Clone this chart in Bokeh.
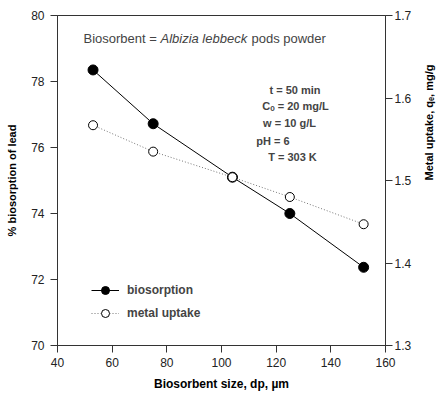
import math
from bokeh.plotting import figure
from bokeh.models import (Range1d, LinearAxis, Label, Legend, LegendItem,
                          FixedTicker)
from bokeh.embed import file_html
from bokeh.resources import INLINE

# ---- data ----
size_um = [53, 75, 104, 125, 152]
biosorption_pct = [78.35, 76.72, 75.10, 74.0, 72.37]
metal_uptake = [1.567, 1.535, 1.504, 1.480, 1.447]

x_ticks = [40, 60, 80, 100, 120, 140, 160]
y_ticks = [70, 72, 74, 76, 78, 80]
y2_ticks = [1.3, 1.4, 1.5, 1.6, 1.7]

FONT = "Liberation Sans"

p = figure(frame_width=328, frame_height=330, output_backend="svg",
           toolbar_location=None, x_range=Range1d(40, 160),
           y_range=Range1d(70, 80),
           min_border_left=57, min_border_right=54,
           min_border_top=15, min_border_bottom=40)
p.extra_y_ranges = {"right": Range1d(1.3, 1.7)}
p.xgrid.visible = False
p.ygrid.visible = False
p.outline_line_color = "#333333"
p.outline_line_width = 1
p.background_fill_color = "white"
p.border_fill_color = "white"

def style_axis(ax, ticks):
    ax.ticker = FixedTicker(ticks=ticks)
    ax.major_tick_in = 0
    ax.major_tick_out = 7
    ax.minor_tick_line_color = None
    ax.axis_line_color = "#333333"
    ax.major_tick_line_color = "#333333"
    ax.major_label_text_font = FONT
    ax.major_label_text_font_size = "12px"
    ax.major_label_text_color = "#222222"
    ax.axis_label_text_font = FONT
    ax.axis_label_text_font_size = "12px"
    ax.axis_label_text_font_style = "bold"
    ax.axis_label_text_color = "black"

def title_axis(ax, text):
    # axis that only carries a title
    ax.ticker = FixedTicker(ticks=[])
    ax.axis_line_color = None
    ax.major_tick_line_color = None
    ax.minor_tick_line_color = None
    ax.major_tick_in = 0
    ax.major_tick_out = 0
    ax.major_label_standoff = 0
    ax.axis_label = text
    ax.axis_label_text_font = FONT
    ax.axis_label_text_font_size = "11px"
    ax.axis_label_text_font_style = "bold"
    ax.axis_label_text_color = "black"

style_axis(p.xaxis[0], x_ticks)
p.xaxis[0].axis_label = "Biosorbent size, dp, µm"
p.xaxis[0].major_label_standoff = 5
p.xaxis[0].axis_label_standoff = 7

style_axis(p.yaxis[0], y_ticks)
p.yaxis[0].major_label_standoff = 6

ax2 = LinearAxis(y_range_name="right")
style_axis(ax2, y2_ticks)
ax2.major_label_standoff = 2
p.add_layout(ax2, "right")

# left title
axl = LinearAxis(bounds=(70.55, 80))
title_axis(axl, "% biosorption of lead")
axl.axis_label_standoff = 11
p.add_layout(axl, "left")

# right title, reading bottom to top
axr = LinearAxis(y_range_name="right", bounds=(1.3, 1.5836))
title_axis(axr, "Metal uptake, qₑ, mg/g")
axr.axis_label_standoff = 14
if "axis_label_orientation" in LinearAxis.properties():
    axr.axis_label_orientation = math.pi / 2
p.add_layout(axr, "right")

xs = 328 / 120

def px_to_x(px):
    return 40 + (px - 57) / xs

def py_to_y(py):
    return 80 - (py - 15) / 33.0

l1 = p.line(size_um, biosorption_pct, line_color="black", line_width=1)
m1 = p.scatter(size_um, biosorption_pct, size=10, fill_color="black",
               line_color="black")
l2 = p.line(size_um, metal_uptake, y_range_name="right", line_color="#777777",
            line_width=1, line_dash="1 2")
m2 = p.scatter(size_um, metal_uptake, y_range_name="right", size=9,
               fill_color="white", line_color="black", line_width=1)

legend = Legend(items=[LegendItem(label="biosorption", renderers=[l1, m1]),
                       LegendItem(label="metal uptake", renderers=[l2, m2])],
                location=(34, 22), border_line_color=None,
                background_fill_alpha=0, padding=0, margin=0, spacing=3,
                glyph_width=28, glyph_height=20, label_standoff=8,
                label_text_font=FONT, label_text_font_size="12px",
                label_text_font_style="bold")
p.add_layout(legend, "center")

# title annotation pieces
ty = 79.3
p.add_layout(Label(x=49.5, y=ty, text="Biosorbent =", text_font=FONT,
                   text_font_size="13px", text_baseline="middle"))
p.add_layout(Label(x=49.5, y=ty, x_offset=77, text="Albizia lebbeck",
                   text_font=FONT, text_font_size="13px",
                   text_font_style="italic", text_baseline="middle"))
p.add_layout(Label(x=49.5, y=ty, x_offset=168, text="pods powder",
                   text_font=FONT, text_font_size="13px",
                   text_baseline="middle"))

# conditions block
cond = [("t = 50 min", 294.5, 89), ("C\u2092 = 20 mg/L", 295, 105),
        ("w = 10 g/L", 289, 122.5), ("pH = 6", 272.5, 140),
        ("T = 303 K", 292, 156)]
for txt, px, py in cond:
    p.add_layout(Label(x=px_to_x(px), y=py_to_y(py), text=txt, text_font=FONT,
                       text_font_size="11px", text_font_style="bold",
                       text_align="center", text_baseline="middle"))

open("out.html", "w").write(file_html(p, INLINE))
